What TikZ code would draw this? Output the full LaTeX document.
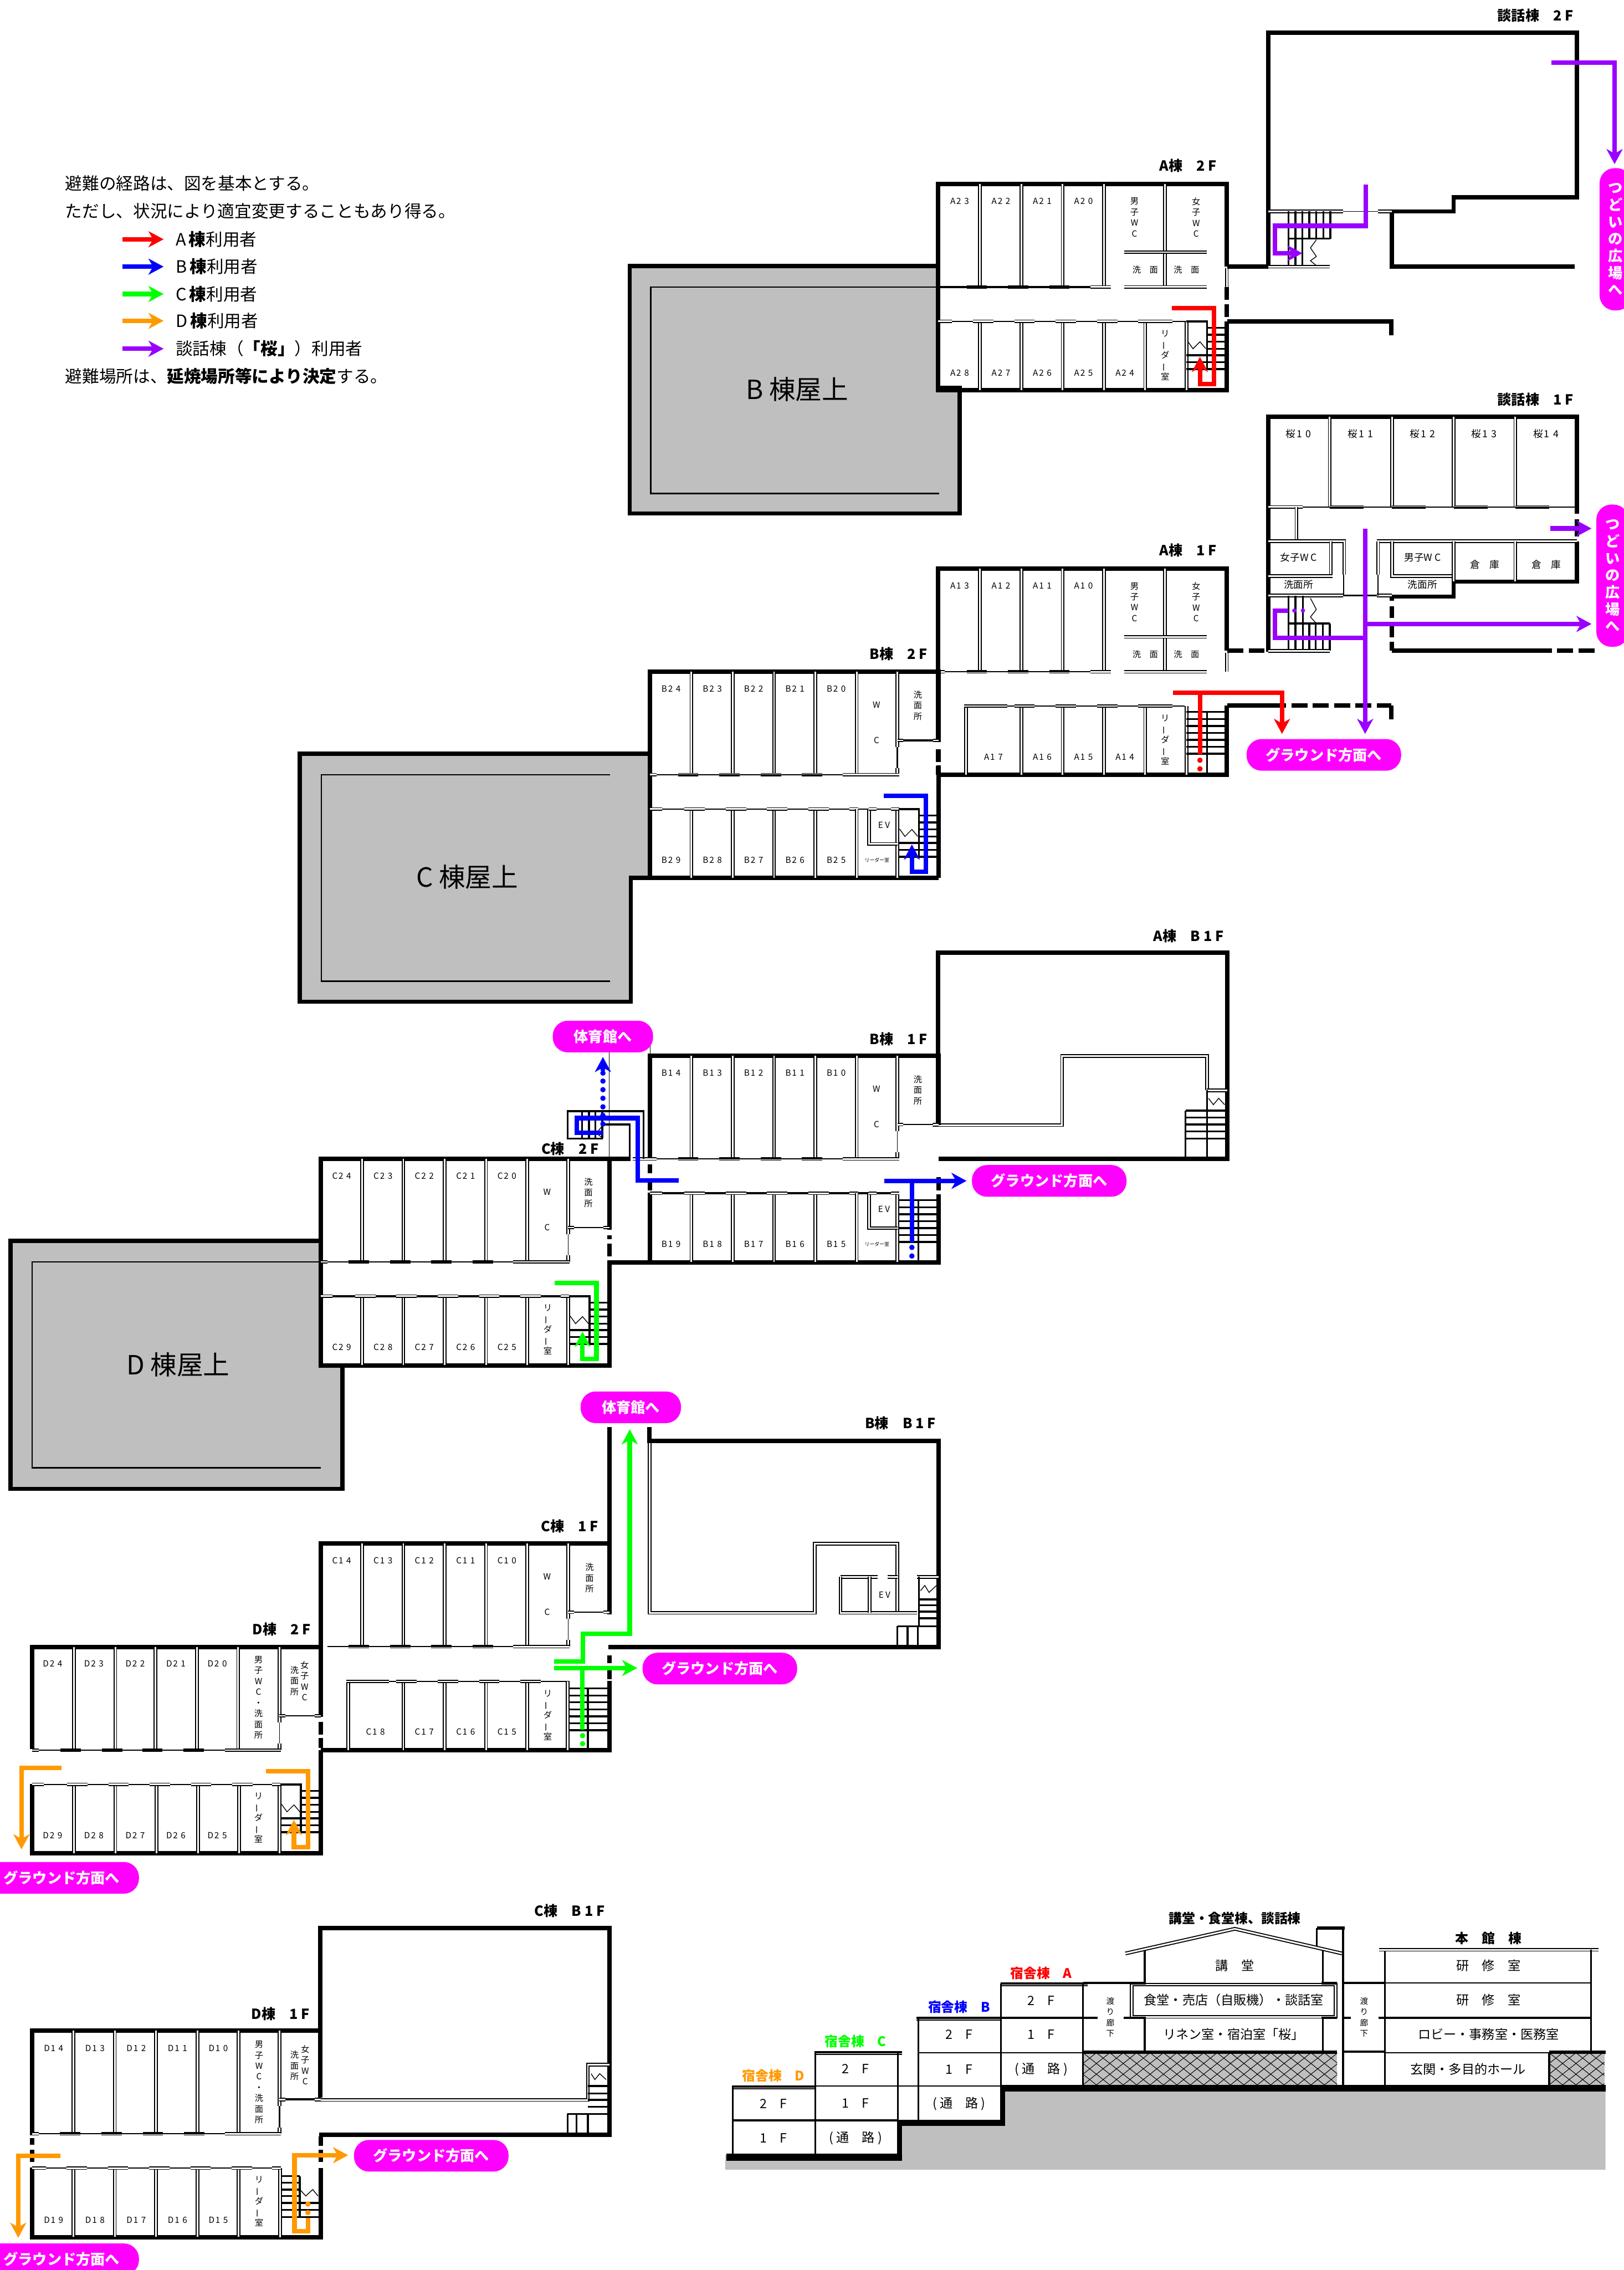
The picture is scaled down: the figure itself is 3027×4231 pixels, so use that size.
\documentclass[tikz,border=0pt]{standalone}
\usepackage{fontspec}
\setmainfont{Noto Sans CJK JP}
\usetikzlibrary{arrows.meta}

\definecolor{redc}{HTML}{FF0000}
\definecolor{bluec}{HTML}{0000FF}
\definecolor{greenc}{HTML}{00FF00}
\definecolor{orangec}{HTML}{FF9900}
\definecolor{purplec}{HTML}{9900FF}
\definecolor{pinkc}{HTML}{FF00FF}
\definecolor{roofgray}{HTML}{BFBFBF}

\tikzset{
  wall/.style = {line width=2.3pt, line cap=square},
  dashw/.style = {line width=2.3pt},
  dashrun/.style = {line width=2.3pt, dash pattern=on 8.5pt off 2.8pt},
  dbl/.style = {line width=.55pt, double, double distance=.85pt},
  tread/.style = {line width=1pt},
  medw/.style = {line width=1pt},
  thinw/.style = {line width=.4pt},
  roofline/.style = {line width=.8pt},
  route/.style = {line width=2.4pt, -{Stealth[length=8pt,width=8.5pt,inset=2.4pt]}},
  routeplain/.style = {line width=2.4pt},
  room/.style = {font=\fontsize{4.5}{5.7}\selectfont, inner sep=0pt, align=center},
  smallroom/.style = {font=\fontsize{2.6}{3}\selectfont, inner sep=0pt},
  sakura/.style = {font=\fontsize{5.2}{6}\selectfont, inner sep=0pt},
  heading/.style = {font=\bfseries\fontsize{7.4}{8}\selectfont, inner sep=0pt, anchor=east},
  rooftext/.style = {font=\fontsize{14}{16}\selectfont, inner sep=0pt},
  legend/.style = {font=\fontsize{9}{10}\selectfont, inner sep=0pt, anchor=west},
  sect/.style = {font=\fontsize{6.8}{8}\selectfont, inner sep=0pt},
  secthead/.style = {font=\bfseries\fontsize{7}{8}\selectfont, inner sep=0pt},
  passage/.style = {font=\fontsize{4.3}{5.7}\selectfont, inner sep=0pt, align=center},
  pill/.style = {fill=pinkc, text=white, rounded corners=8pt, inner sep=0pt, align=center,
    font=\bfseries\fontsize{7.7}{9}\selectfont, minimum width=2.88cm, minimum height=.59cm},
  pillv/.style = {pill, minimum width=.6cm, minimum height=2.65cm},
  pillg/.style = {pill, minimum width=1.87cm}
}

\newcommand{\digits}[2]{\hspace{.12em}#1\hspace{.36em}#2}
\newcommand{\tatebo}{\rotatebox[origin=c]{90}{ー}}
\newcommand{\readerroom}{リ\\\tatebo\\ダ\\\tatebo\\室}
\newcommand{\washroom}{洗\\面\\所}
\newcommand{\dashes}[2]{\foreach \aa/\bb in {#2}{\draw[dashw] (#1,\aa) -- (#1,\bb);}}
\newcommand{\roomrow}[3]{\foreach \xx/\un in {#3}{\node[room] (#1\un) at (\xx,#2) {#1\expandafter\digits\un};}}
\newcommand{\uprooms}[1]{\foreach \xx in {#1}{
    \draw[dbl] (\xx,0) -- (\xx,192);
    \draw[dbl] (\xx-25,192) -- (\xx+13,192);}}
\newcommand{\lowrooms}[1]{\foreach \xx in {#1}{
    \draw[dbl] (\xx,256) -- (\xx,384);
    \draw[dbl] (\xx-13,256) -- (\xx+25,256);}}
\newcommand{\stairset}{
  \draw[tread] (463,256) -- (501,256) -- (501,345);
  \foreach \yy in {268,281,294,307}{\draw[tread] (501,\yy) -- (538,\yy);}
  \foreach \yy in {319,332,345}{\draw[tread] (463,\yy) -- (538,\yy);}
  \draw[thinw] (465,293) -- (475,307) -- (488,294) -- (499,307);}
\newcommand{\wcframe}[1]{
  \draw[dbl] (461,0) -- (461,140);
  \draw[#1] (461,140) -- (461,180);
  \draw[dbl] (461,180) -- (461,192);
  \draw[dbl] (359,192) -- (464,192);
  \draw[#1] (461,128) -- (538,128);
  \draw[dbl] (461,128) -- (472,128);
  \draw[dbl] (527,128) -- (538,128);}
\newcommand{\aservice}[1]{
  \draw[dbl] (423,0) -- (423,192);
  \draw[dbl] (347,127) -- (501,127);
  \draw[dbl] (347,192) -- (501,192);
  \node[room] (#1m) at (366,62) {男\\子\\W\\C};
  \node[room] (#1f) at (481,62) {女\\子\\W\\C};
  \node[room] (#1wa) at (386,160) {洗　面};
  \node[room] (#1wb) at (463,160) {洗　面};}
\newcommand{\evbox}[1]{
  \draw[dbl] (408,256) -- (408,321) -- (461,321);
  \draw[dbl] (408,256) -- (422,256);
  \draw[dbl] (449,256) -- (464,256);
  \node[room] (#1ev) at (436,286) {E V};
  \node[smallroom] (#1rd) at (423,351) {リーダー室};}
\newcommand{\stdroute}[1]{\draw[route,#1] (436,231) -- (514,231) -- (514,373) -- (488,373) -- (488,322);}
\newcommand{\routedots}[3]{\foreach \yy in {#3}{\fill[#1] (#2,\yy) circle [radius=5];}}
\newcommand{\hatchbox}[4]{
  \begin{scope}
    \fill[roofgray] (#1,#2) rectangle (#3,#4);
    \clip (#1,#2) rectangle (#3,#4);
    \foreach \xx in {0,25,...,625}{
      \draw[line width=.3pt] (#1+\xx-75,#2) -- (#1+\xx,#4);
      \draw[line width=.3pt] (#1+\xx,#2) -- (#1+\xx-75,#4);}
  \end{scope}}

\begin{document}
\begin{tikzpicture}[x=0.01cm, y=-0.01cm]
  \useasboundingbox (0,0) rectangle (3027,4231);

  % legend
  \node[legend] (intro1) at (121,342) {避難の経路は、図を基本とする。};
  \node[legend] (intro2) at (121,393) {ただし、状況により適宜変更することもあり得る。};
  \foreach \yy/\cc/\nm/\tx in {446/redc/A/{A\,\textbf{棟}利用者},497/bluec/B/{B\,\textbf{棟}利用者},
      548/greenc/C/{C\,\textbf{棟}利用者},598/orangec/D/{D\,\textbf{棟}利用者},
      650/purplec/S/{談話棟（\textbf{「桜」}）利用者}}{
    \coordinate (from\nm) at (228,\yy);
    \coordinate (to\nm) at (305,\yy);
    \node[legend] (leg\nm) at (327,\yy) {\tx};
    \draw[route,\cc] (from\nm) -- (to\nm);
  }
  \node[legend] (intro3) at (121,701) {避難場所は、\textbf{延焼場所等により決定}する。};

  % roofs
  \filldraw[wall, line cap=butt, line join=miter, fill=roofgray] (1174,496) -- (1749,496) -- (1749,723) -- (1789,723) -- (1789,957) -- (1174,957) -- cycle;
  \draw[roofline] (1751,535) -- (1213,535) -- (1213,920) -- (1751,920);
  \node[rooftext] (roofB) at (1486,726) {B 棟屋上};
  \filldraw[wall, line cap=butt, line join=miter, fill=roofgray] (559,1405) -- (1212,1405) -- (1212,1636) -- (1176,1636) -- (1176,1867) -- (559,1867) -- cycle;
  \draw[roofline] (1137,1444) -- (599,1444) -- (599,1829) -- (1137,1829);
  \node[rooftext] (roofC) at (871,1635) {C 棟屋上};
  \filldraw[wall, line cap=butt, line join=miter, fill=roofgray] (20,2313) -- (598,2313) -- (598,2545) -- (638,2545) -- (638,2775) -- (20,2775) -- cycle;
  \draw[roofline] (598,2352) -- (60,2352) -- (60,2736) -- (598,2736);
  \node[rooftext] (roofD) at (332,2544) {D 棟屋上};

  % A wing 2F
  \begin{scope}[shift={(1749,343)}]
    \draw[wall] (0,192) -- (0,0) -- (538,0) -- (538,154);
    \draw[dbl] (538,157) -- (538,192);
    \dashes{0}{200/216,224/250}
    \dashes{538}{192/216,224/248}
    \draw[wall] (0,256) -- (0,384) -- (538,384) -- (538,256);
    \uprooms{78,155,232,309}
    \draw[medw] (0,192) -- (284,192);
    \aservice{AU}
    \draw[thinw] (0,256) -- (463,256);
    \draw[dbl] (0,256) -- (26,256);
    \lowrooms{78,155,232,309,386}
    \draw[dbl] (373,256) -- (437,256);
    \draw[dbl] (463,256) -- (463,384);
    \stairset
    \roomrow{A}{32}{40/23,117/22,194/21,271/20}
    \roomrow{A}{352}{40/28,117/27,194/26,271/25,348/24}
    \node[room] (ArdU) at (423,319) {\readerroom};
    \node[heading] (headA2) at (520,-34) {A棟　2 F};
    \stdroute{redc}
  \end{scope}

  % talk wing 2F
  \draw[wall] (2364,497) -- (2364,61) -- (2940,61) -- (2940,368) -- (2710,368) -- (2710,394) -- (2595,394) -- (2595,497) -- (2936,497);
  \draw[wall] (2288,497) -- (2364,497);
  \draw[wall] (2288,599) -- (2594,599) -- (2594,625);
  \draw[dbl] (2364,394) -- (2504,394);
  \draw[thinw] (2504,394) -- (2569,394);
  \draw[dbl] (2569,394) -- (2595,394);
  \foreach \xx in {2402,2415,2428}{\draw[medw] (\xx,394) -- (\xx,497);}
  \foreach \xx in {2441,2454,2467,2480}{\draw[medw] (\xx,394) -- (\xx,445);}
  \draw[tread] (2402,445) -- (2480,445);
  \draw[thinw] (2454,447) -- (2443,462) -- (2454,478) -- (2443,486) -- (2454,495);
  \draw[dbl] (2364,497) -- (2479,497);
  \node[heading] (headS2) at (2934,29) {談話棟　2 F};
  \draw[route,purplec] (2546,344) -- (2546,421) -- (2377,421) -- (2377,472) -- (2428,472);
  \draw[route,purplec] (2892,117) -- (3010,117) -- (3010,306);
  \node[pillv] (plazaU) at (3012,446) {つ\\ど\\い\\の\\広\\場\\へ};

  % A wing 1F
  \begin{scope}[shift={(1749,1060)}]
    \draw[wall] (0,320) -- (0,0) -- (538,0) -- (538,153);
    \draw[dbl] (538,157) -- (538,192);
    \dashes{0}{337/360,368/384}
    \draw[wall] (538,255) -- (538,384) -- (0,384);
    \uprooms{78,155,232,309}
    \draw[thinw] (12,192) -- (284,192);
    \draw[dbl] (0,192) -- (12,192);
    \aservice{AL}
    \draw[thinw] (48,256) -- (459,256);
    \draw[dbl] (52,256) -- (52,384);
    \draw[dbl] (48,256) -- (129,256);
    \lowrooms{155,232,309,386}
    \draw[dbl] (373,256) -- (437,256);
    \draw[dbl] (463,256) -- (463,384);
    \foreach \yy in {267,280,...,345}{\draw[tread] (463,\yy) -- (538,\yy);}
    \draw[tread] (501,267) -- (501,384);
    \roomrow{A}{32}{40/13,117/12,194/11,271/10}
    \roomrow{A}{351}{103/17,194/16,271/15,348/14}
    \node[room] (ArdL) at (423,319) {\readerroom};
    \node[heading] (headA1) at (520,-34) {A棟　1 F};
  \end{scope}
  \draw[dashrun] (2288,1213) -- (2364,1213);
  \draw[wall] (2288,1315) -- (2368,1315);
  \draw[dashrun] (2368,1315) -- (2594,1315);
  \draw[wall] (2594,1315) -- (2594,1341);
  \draw[routeplain,redc] (2187,1291) -- (2237,1291) -- (2237,1406);
  \draw[route,redc] (2237,1291) -- (2390,1291) -- (2390,1368);
  \routedots{redc}{2237}{1417,1433}

  % talk wing 1F
  \draw[wall] (2364,1215) -- (2364,777) -- (2940,777) -- (2940,945);
  \dashes{2940}{945/958,968/1000}
  \draw[wall] (2940,1009) -- (2940,1084) -- (2710,1084) -- (2710,1112) -- (2595,1112);
  \draw[wall] (2595,1112) -- (2595,1120);
  \dashes{2595}{1130/1152,1160/1188,1196/1213}
  \draw[wall] (2595,1213) -- (2863,1213);
  \draw[dashrun] (2863,1213) -- (2978,1213);
  \foreach \xx in {2479,2595,2710,2825}{
    \draw[dbl] (\xx,777) -- (\xx,945);
    \draw[dbl] (\xx,945) -- (\xx+63,945);}
  \draw[dbl] (2364,945) -- (2428,945);
  \draw[thinw] (2428,945) -- (2940,945);
  \draw[dbl] (2417,945) -- (2417,1009);
  \draw[dbl] (2364,1009) -- (2506,1009) -- (2506,1071);
  \draw[thinw] (2505,1071) -- (2505,1110);
  \draw[dbl] (2481,1009) -- (2481,1074);
  \draw[dbl] (2364,1074) -- (2484,1074);
  \draw[dbl] (2364,1110) -- (2504,1110);
  \draw[medw] (2504,1110) -- (2567,1110);
  \draw[dbl] (2567,1110) -- (2595,1110);
  \draw[dbl] (2567,1009) -- (2940,1009);
  \draw[dbl] (2569,1009) -- (2569,1071);
  \draw[thinw] (2569,1071) -- (2569,1110);
  \draw[dbl] (2595,1009) -- (2595,1074) -- (2710,1074);
  \draw[dbl] (2710,1009) -- (2710,1084);
  \draw[dbl] (2825,1009) -- (2825,1084);
  \foreach \xx in {2402,2415,2429}{\draw[medw] (\xx,1110) -- (\xx,1213);}
  \foreach \xx in {2441,2453,2466,2479}{\draw[medw] (\xx,1162) -- (\xx,1213);}
  \draw[tread] (2402,1162) -- (2479,1162);
  \draw[thinw] (2443,1115) -- (2454,1136) -- (2443,1150) -- (2454,1162);
  \draw[dbl] (2364,1213) -- (2479,1213);
  \foreach \xx/\nm in {2421/10,2536/11,2652/12,2767/13,2882/14}{
    \node[sakura] (sakura\nm) at (\xx,809) {桜\expandafter\digits\nm};}
  \node[sakura] (fwcS) at (2421,1039) {女子W C};
  \node[sakura] (fwaS) at (2421,1090) {洗面所};
  \node[sakura] (mwcS) at (2652,1039) {男子W C};
  \node[sakura] (mwaS) at (2652,1090) {洗面所};
  \node[sakura] (storeA) at (2768,1052) {倉　庫};
  \node[sakura] (storeB) at (2883,1052) {倉　庫};
  \node[heading] (headS1) at (2934,745) {談話棟　1 F};
  \draw[route,purplec] (2890,985) -- (2967,985);
  \draw[route,purplec] (2545,985) -- (2545,1368);
  \draw[route,purplec] (2545,1163) -- (2967,1163);
  \draw[routeplain,purplec] (2545,1189) -- (2377,1189) -- (2377,1138) -- (2402,1138);
  \foreach \xx in {2413,2429}{\fill[purplec] (\xx,1138) circle [radius=4];}
  \node[pillv] (plazaL) at (3006,1073) {つ\\ど\\い\\の\\広\\場\\へ};
  \node[pill] (groundA) at (2468,1407) {グラウンド方面へ};

  % B wing 2F
  \begin{scope}[shift={(1212,1252)}]
    \draw[wall] (538,384) -- (538,192);
    \dashes{538}{145/168,175/192}
    \draw[wall] (538,131) -- (538,0) -- (0,0) -- (0,384) -- (538,384);
    \uprooms{77,154,231,308,385}
    \draw[thinw] (12,192) -- (359,192);
    \draw[dbl] (0,192) -- (12,192);
    \wcframe{medw}
    \draw[thinw] (0,256) -- (461,256);
    \draw[dbl] (0,256) -- (22,256);
    \lowrooms{77,154,231,308}
    \draw[dbl] (372,256) -- (388,256);
    \draw[dbl] (385,256) -- (385,384);
    \draw[dbl] (461,256) -- (461,384);
    \evbox{B2}
    \stairset
    \roomrow{B}{32}{39/24,116/23,193/22,270/21,347/20}
    \roomrow{B}{351}{39/29,116/28,193/27,270/26,347/25}
    \node[room] (Bwc2) at (422,95) {W\\[13pt]C};
    \node[room] (Bwa2) at (499,63) {\washroom};
    \node[heading] (headB2) at (518,-33) {B棟　2 F};
    \stdroute{bluec}
  \end{scope}

  % A wing B1F
  \draw[wall] (1749,2097) -- (1749,1776) -- (2288,1776) -- (2288,2160) -- (1750,2160);
  \draw[dbl] (1738,2097) -- (1980,2097) -- (1980,1968) -- (2250,1968) -- (2250,2032);
  \draw[dbl] (2250,2032) -- (2288,2032);
  \draw[tread] (2250,2032) -- (2250,2160);
  \draw[tread] (2210,2070) -- (2210,2160);
  \foreach \yy in {2070,2083,2096,2109,2122}{\draw[tread] (2210,\yy) -- (2288,\yy);}
  \draw[thinw] (2253,2047) -- (2262,2059) -- (2272,2047) -- (2283,2059);
  \node[heading] (headAB) at (2282,1745) {A棟　B 1 F};

  % B wing 1F
  \begin{scope}[shift={(1212,1968)}]
    \draw[wall] (538,129) -- (538,0) -- (0,0) -- (0,192);
    \dashes{0}{202/219,231/251}
    \dashes{538}{226/251}
    \draw[wall] (0,255) -- (0,385) -- (538,385) -- (538,258);
    \uprooms{77,154,231,308,385}
    \draw[thinw] (12,192) -- (359,192);
    \draw[dbl] (0,192) -- (12,192);
    \wcframe{thinw}
    \draw[medw] (0,256) -- (461,256);
    \draw[dbl] (0,256) -- (22,256);
    \lowrooms{77,154,231,308}
    \draw[dbl] (372,256) -- (388,256);
    \draw[dbl] (385,256) -- (385,384);
    \draw[dbl] (461,256) -- (461,384);
    \evbox{B1}
    \foreach \yy in {269,282,...,347}{\draw[tread] (464,\yy) -- (538,\yy);}
    \draw[tread] (500,269) -- (500,385);
    \roomrow{B}{32}{39/14,116/13,193/12,270/11,347/10}
    \roomrow{B}{351}{39/19,116/18,193/17,270/16,347/15}
    \node[room] (Bwc1) at (422,95) {W\\[13pt]C};
    \node[room] (Bwa1) at (499,64) {\washroom};
    \node[heading] (headB1) at (518,-31) {B棟　1 F};
  \end{scope}
  \draw[routeplain,bluec] (1649,2201) -- (1700,2201) -- (1700,2316);
  \draw[route,bluec] (1700,2201) -- (1802,2201);
  \routedots{bluec}{1700}{2325,2341}
  \node[pill] (groundB) at (1956,2201) {グラウンド方面へ};

  % C wing 2F
  \begin{scope}[shift={(598,2160)}]
    \draw[wall] (0,192) -- (0,0) -- (577,0);
    \draw[dbl] (582,0) -- (626,0);
    \draw[wall] (538,0) -- (538,132);
    \dashes{0}{205/220,232/252}
    \dashes{538}{142/150,158/182}
    \draw[wall] (614,193) -- (538,193) -- (538,385) -- (0,385) -- (0,256);
    \uprooms{77,154,231,308,385}
    \draw[thinw] (12,192) -- (359,192);
    \draw[dbl] (0,192) -- (12,192);
    \wcframe{thinw}
    \draw[medw] (0,256) -- (461,256);
    \draw[dbl] (0,256) -- (22,256);
    \lowrooms{77,154,231,308,385}
    \draw[dbl] (461,256) -- (461,384);
    \draw[dbl] (447,256) -- (463,256);
    \stairset
    \roomrow{C}{32}{39/24,116/23,193/22,270/21,347/20}
    \roomrow{C}{351}{39/29,116/28,193/27,270/26,347/25}
    \node[room] (Cwc2) at (422,95) {W\\[13pt]C};
    \node[room] (Cwa2) at (499,63) {\washroom};
    \node[room] (Crd2) at (423,318) {\readerroom};
    \node[heading] (headC2) at (519,-19) {C棟　2 F};
    \stdroute{greenc}
  \end{scope}

  % gym stair beside C wing
  \draw[medw] (1124,2122) -- (1058,2122) -- (1058,2071) -- (1200,2071) -- (1200,2160);
  \draw[medw] (1124,2096) -- (1174,2096) -- (1174,2160);
  \foreach \xx in {1085,1098,1110,1123}{\draw[medw] (\xx,2071) -- (\xx,2122);}
  \draw[thinw] (1136,1962) -- (1136,2160);
  \draw[thinw] (1212,1950) -- (1212,1968);
  \draw[thinw] (1124,2097) -- (1112,2112) -- (1124,2122);
  \draw[routeplain,bluec] (1265,2200) -- (1189,2200) -- (1189,2084) -- (1075,2084) -- (1075,2111) -- (1124,2111);
  \routedots{bluec}{1124}{2095,2079,2063,2047,2031,2015,2000}
  \draw[route,bluec] (1124,1996) -- (1124,1970);
  \node[pillg] (gymC) at (1124,1932) {体育館へ};

  % B wing B1F
  \draw[wall] (1211,2660) -- (1211,2686) -- (1750,2686) -- (1750,3070) -- (1134,3070);
  \draw[dbl] (1211,2690) -- (1211,3006) -- (1519,3006) -- (1519,2877) -- (1673,2877) -- (1673,3006);
  \draw[dbl] (1567,2939) -- (1636,2939);
  \draw[dbl] (1655,2939) -- (1673,2939);
  \draw[dbl] (1567,2939) -- (1567,3006) -- (1710,3006);
  \draw[dbl] (1621,2939) -- (1621,3006);
  \draw[dbl] (1710,2939) -- (1750,2939);
  \draw[tread] (1713,2939) -- (1713,3031);
  \foreach \yy in {2981,2992,3004,3016}{\draw[tread] (1713,\yy) -- (1750,\yy);}
  \draw[tread] (1673,3031) -- (1750,3031);
  \foreach \xx in {1673,1692,1711}{\draw[medw] (\xx,3031) -- (\xx,3070);}
  \draw[thinw] (1716,2965) -- (1724,2955) -- (1732,2968) -- (1746,2955);
  \node[room] (evB) at (1649,2973) {E V};
  \node[heading] (headBB) at (1745,2653) {B棟　B 1 F};

  % C wing 1F
  \begin{scope}[shift={(598,2877)}]
    \draw[wall] (0,193) -- (0,0) -- (538,0);
    \draw[wall] (538,-217) -- (538,132);
    \dashes{538}{208/223,233/253}
    \draw[wall] (538,256) -- (538,385) -- (0,385);
    \uprooms{77,154,231,308,385}
    \draw[thinw] (12,192) -- (359,192);
    \wcframe{thinw}
    \draw[thinw] (48,257) -- (464,257);
    \draw[dbl] (51,257) -- (51,385);
    \draw[dbl] (48,257) -- (127,257);
    \foreach \xx in {154,231,308,385}{
      \draw[dbl] (\xx,257) -- (\xx,385);
      \draw[dbl] (\xx-13,257) -- (\xx+25,257);}
    \draw[dbl] (460,257) -- (460,385);
    \foreach \yy in {270,283,...,348}{\draw[tread] (464,\yy) -- (538,\yy);}
    \draw[tread] (498,270) -- (498,385);
    \roomrow{C}{32}{39/14,116/13,193/12,270/11,347/10}
    \roomrow{C}{351}{102/18,193/17,270/16,347/15}
    \node[room] (Cwc1) at (422,95) {W\\[13pt]C};
    \node[room] (Cwa1) at (501,64) {\washroom};
    \node[room] (Crd1) at (423,320) {\readerroom};
    \node[heading] (headC1) at (518,-32) {C棟　1 F};
  \end{scope}
  \draw[route,greenc] (1033,3097) -- (1087,3097) -- (1087,3045) -- (1174,3045) -- (1174,2664);
  \draw[routeplain,greenc] (1033,3109) -- (1086,3109) -- (1086,3224);
  \draw[route,greenc] (1086,3109) -- (1188,3109);
  \routedots{greenc}{1086}{3235,3250}
  \node[pillg] (gymD) at (1176,2623) {体育館へ};
  \node[pill] (groundC) at (1342,3110) {グラウンド方面へ};

  % D wing 2F
  \begin{scope}[shift={(60,3070)}]
    \draw[wall] (0,190) -- (0,0) -- (538,0) -- (538,130);
    \dashes{538}{139/163,169/188}
    \draw[wall] (538,192) -- (538,384) -- (0,384) -- (0,255);
    \uprooms{78,155,230,307,384}
    \draw[thinw] (12,192) -- (359,192);
    \draw[dbl] (0,192) -- (12,192);
    \wcframe{thinw}
    \draw[thinw] (0,256) -- (461,256);
    \draw[dbl] (0,256) -- (22,256);
    \lowrooms{78,155,232,309,386}
    \draw[dbl] (461,256) -- (461,384);
    \draw[dbl] (447,256) -- (463,256);
    \stairset
    \roomrow{D}{31}{38/24,115/23,192/22,268/21,345/20}
    \roomrow{D}{351}{38/29,115/28,192/27,268/26,345/25}
    \node[room] (Dmwc2) at (422,94) {男\\子\\W\\C\\・\\洗\\面\\所};
    \node[room] (Dfwc2) at (508,63) {女\\子\\W\\C};
    \node[room] (Dwa2) at (489,63) {\washroom};
    \node[room] (Drd2) at (422,318) {\readerroom};
    \node[heading] (headD2) at (520,-33) {D棟　2 F};
    \stdroute{orangec}
  \end{scope}
  \draw[route,orangec] (115,3295) -- (40,3295) -- (40,3447);
  \node[pill] (groundD) at (115,3500) {グラウンド方面へ};

  % C wing B1F
  \draw[wall] (597,3910) -- (597,3594) -- (1136,3594) -- (1136,3979) -- (595,3979);
  \draw[dbl] (587,3914) -- (1096,3914) -- (1096,3848) -- (1136,3848);
  \foreach \yy in {3888,3902,3914,3927}{\draw[tread] (1096,\yy) -- (1136,\yy);}
  \draw[tread] (1058,3940) -- (1136,3940);
  \foreach \xx in {1058,1075,1096}{\draw[medw] (\xx,3940) -- (\xx,3979);}
  \draw[thinw] (1102,3865) -- (1109,3876) -- (1118,3865) -- (1130,3876);
  \node[heading] (headCB) at (1128,3562) {C棟　B 1 F};

  % D wing 1F
  \begin{scope}[shift={(60,3785)}]
    \draw[wall] (0,195) -- (0,0) -- (538,0);
    \dashes{0}{200/213,222/245}
    \dashes{538}{197/215,222/245}
    \draw[wall] (538,256) -- (538,385) -- (0,385) -- (0,255);
    \uprooms{77,154,231,308,385}
    \draw[thinw] (12,192) -- (359,192);
    \draw[dbl] (0,192) -- (12,192);
    \wcframe{medw}
    \draw[thinw] (0,256) -- (461,256);
    \draw[dbl] (0,256) -- (26,256);
    \lowrooms{77,154,231,308,385}
    \draw[dbl] (462,256) -- (462,385);
    \draw[dbl] (447,256) -- (464,256);
    \draw[tread] (499,271) -- (499,347);
    \foreach \yy in {271,283,296,308}{\draw[tread] (464,\yy) -- (499,\yy);}
    \foreach \yy in {321,334,347}{\draw[tread] (464,\yy) -- (538,\yy);}
    \draw[thinw] (500,297) -- (510,308) -- (523,296) -- (533,308);
    \roomrow{D}{33}{40/14,117/13,194/12,271/11,347/10}
    \roomrow{D}{353}{40/19,117/18,194/17,271/16,347/15}
    \node[room] (Dmwc1) at (423,96) {男\\子\\W\\C\\・\\洗\\面\\所};
    \node[room] (Dfwc1) at (509,64) {女\\子\\W\\C};
    \node[room] (Dwa1) at (489,65) {\washroom};
    \node[room] (Drd1) at (423,318) {\readerroom};
    \node[heading] (headD1) at (518,-31) {D棟　1 F};
  \end{scope}
  \routedots{orangec}{574}{4108,4124}
  \draw[route,orangec] (574,4134) -- (574,4159) -- (549,4159) -- (549,4017) -- (649,4017);
  \draw[route,orangec] (113,4018) -- (34,4018) -- (34,4171);
  \node[pill] (groundE) at (804,4018) {グラウンド方面へ};
  \node[pill] (groundF) at (115,4211) {グラウンド方面へ};

  % section through the buildings
  \fill[roofgray] (1352,4016) -- (1682,4016) -- (1682,3951) -- (1874,3951) -- (1874,3886) -- (2993,3886) -- (2993,4044) -- (1352,4044) -- cycle;
  \hatchbox{2019}{3826}{2493}{3886}
  \hatchbox{2888}{3826}{2991}{3886}
  \fill (1354,4014) rectangle (1682,4027);
  \fill (1674,3951) rectangle (1682,4027);
  \fill (1682,3951) rectangle (1874,3962);
  \fill (1866,3886) rectangle (1874,3962);
  \fill (1866,3886) rectangle (2993,3898);
  \fill (2019,3822) rectangle (2493,3828);
  \fill (2888,3822) rectangle (2993,3828);

  \draw[medw] (1366,4014) -- (1366,3889) -- (1520,3889);
  \draw[thinw] (1366,3893) -- (1520,3893);
  \draw[medw] (1366,3952) -- (1674,3952);
  \draw[medw] (1520,3825) -- (1520,4014);
  \draw[medw] (1674,3825) -- (1674,4014);
  \draw[medw] (1518,3825) -- (1682,3825);
  \draw[thinw] (1518,3829) -- (1682,3829);
  \draw[thinw] (1520,3888) -- (1712,3888);
  \draw[medw] (1712,3763) -- (1712,3951);
  \draw[medw] (1708,3761) -- (1866,3761);
  \draw[thinw] (1708,3765) -- (1866,3765);
  \draw[thinw] (1712,3826) -- (2019,3826);
  \draw[thinw] (1712,3888) -- (1866,3888);
  \draw[medw] (1866,3697) -- (1866,3951);
  \draw[medw] (1866,3697) -- (2028,3697);
  \draw[thinw] (1866,3701) -- (2028,3701);
  \draw[medw] (1866,3761) -- (2046,3761);
  \draw[medw] (2019,3697) -- (2019,3886);

  \draw[medw] (2019,3696) -- (2107,3696);
  \draw[dbl] (2110,3699) rectangle (2490,3759);
  \draw[medw] (2134,3635) -- (2134,3696);
  \draw[medw] (2466,3635) -- (2466,3696);
  \fill (2107,3694) rectangle (2136,3699);
  \fill (2464,3694) rectangle (2493,3699);
  \fill (2095,3759) rectangle (2136,3763);
  \fill (2464,3759) rectangle (2493,3763);
  \draw[medw] (2134,3763) -- (2134,3825);
  \draw[medw] (2466,3763) -- (2466,3825);
  \draw[dbl] (2098,3641) -- (2302,3595) -- (2502,3641);
  \draw[medw] (2455,3594) -- (2455,3628);
  \fill (2455,3591) rectangle (2507,3597);
  \draw[medw] (2504,3594) -- (2504,3886);

  \draw[medw] (2506,3696) -- (2582,3696);
  \draw[medw] (2506,3761) -- (2518,3761);
  \draw[medw] (2570,3761) -- (2966,3761);
  \draw[medw] (2506,3824) -- (2582,3824);
  \draw[medw] (2582,3634) -- (2582,3886);
  \draw[dbl] (2571,3634) -- (2980,3634);
  \draw[thinw] (2582,3696) -- (2966,3696);
  \draw[medw] (2966,3634) -- (2966,3824);
  \draw[thinw] (2582,3826) -- (2888,3826);
  \draw[medw] (2888,3826) -- (2888,3886);

  \node[secthead,orangec] (sectD) at (1442,3869) {宿舎棟　D};
  \node[secthead,greenc] (sectC) at (1595,3805) {宿舎棟　C};
  \node[secthead,bluec] (sectB) at (1788,3741) {宿舎棟　B};
  \node[secthead,redc] (sectA) at (1941,3678) {宿舎棟　A};
  \node[sect] (d2) at (1442,3921) {2　F};
  \node[sect] (d1) at (1442,3985) {1　F};
  \node[sect] (c2) at (1595,3856) {2　F};
  \node[sect] (c1) at (1595,3920) {1　F};
  \node[sect] (c0) at (1595,3985) {( 通　路 )};
  \node[sect] (b2) at (1788,3792) {2　F};
  \node[sect] (b1) at (1788,3857) {1　F};
  \node[sect] (b0) at (1788,3921) {( 通　路 )};
  \node[sect] (a2) at (1941,3729) {2　F};
  \node[sect] (a1) at (1941,3792) {1　F};
  \node[sect] (a0) at (1941,3857) {( 通　路 )};
  \node[passage] (linkL) at (2070,3760) {渡\\り\\廊\\下};
  \node[passage] (linkR) at (2543,3760) {渡\\り\\廊\\下};
  \node[secthead] (sectHall) at (2302,3575) {講堂・食堂棟、談話棟};
  \node[sect] (hallA) at (2302,3664) {講　堂};
  \node[sect] (hallB) at (2300,3728) {食堂・売店（自販機）・談話室};
  \node[sect] (hallC) at (2300,3792) {リネン室・宿泊室「桜」};
  \node[secthead] (sectMain) at (2775,3613) {本　館　棟};
  \node[sect] (mainA) at (2775,3664) {研　修　室};
  \node[sect] (mainB) at (2775,3728) {研　修　室};
  \node[sect] (mainC) at (2775,3792) {ロビー・事務室・医務室};
  \node[sect] (mainD) at (2737,3857) {玄関・多目的ホール};
\end{tikzpicture}
\end{document}
